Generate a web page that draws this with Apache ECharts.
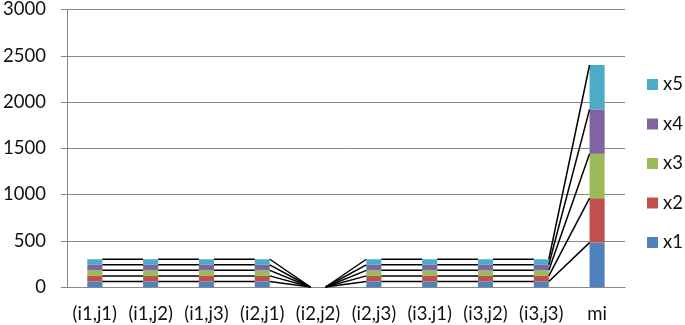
<!DOCTYPE html>
<html>
<head>
<meta charset="utf-8">
<script src="https://cdn.jsdelivr.net/npm/echarts@6/dist/echarts.min.js"></script>
<style>html,body{margin:0;padding:0;background:#fff}#c{width:685px;height:325px}</style>
</head>
<body>
<div id="c"></div>
<script>
const categories = ['(i1,j1)','(i1,j2)','(i1,j3)','(i2,j1)','(i2,j2)','(i2,j3)','(i3.j1)','(i3,j2)','(i3,j3)','mi'];
const x1 = [60,60,60,60,0,60,60,60,60,480];
const x2 = [60,60,60,60,0,60,60,60,60,480];
const x3 = [60,60,60,60,0,60,60,60,60,480];
const x4 = [60,60,60,60,0,60,60,60,60,480];
const x5 = [60,60,60,60,0,60,60,60,60,480];
const seriesNames = ['x1','x2','x3','x4','x5'];
const seriesValues = [x1,x2,x3,x4,x5];
const colors = ['#4F81BD','#C0504D','#9BBB59','#8064A2','#4BACC6'];
const yTicks = [0,500,1000,1500,2000,2500,3000];

// cumulative tops per level
const cum = seriesValues.map((_, k) => categories.map((_, i) => {
  let s = 0; for (let j = 0; j <= k; j++) s += seriesValues[j][i]; return s;
}));
const BAR_FRAC = 0.27;
const connectorData = [];
for (let i = 0; i < categories.length - 1; i++) for (let k = 0; k < seriesNames.length; k++) connectorData.push([i, k]);

const chart = echarts.init(document.getElementById('c'));
const font = 'Lato';
const FS = 18.5;
chart.setOption({
  animation: false,
  textStyle: {fontFamily: font},
  grid: {left: 64, right: 60, top: 8, bottom: 38, containLabel: false},
  legend: {
    orient: 'vertical', left: 647, top: 75, padding: 0,
    data: ['x5','x4','x3','x2','x1'],
    icon: 'rect', itemWidth: 11, itemHeight: 11, itemGap: 20.5, itemTextGap: 6,
    textStyle: {fontFamily: font, fontSize: FS, color: '#111'}
  },
  xAxis: {
    type: 'category', data: categories,
    axisLine: {lineStyle: {color: '#888', width: 1}},
    axisTick: {show: false},
    axisLabel: {fontFamily: font, fontSize: FS, color: '#111', margin: 18, interval: 0}
  },
  yAxis: {
    type: 'value', min: yTicks[0], max: yTicks[yTicks.length-1], interval: 500,
    axisLine: {show: true, lineStyle: {color: '#888', width: 1}},
    axisTick: {show: true, length: 6, lineStyle: {color: '#888'}},
    splitLine: {lineStyle: {color: '#888', width: 1}},
    axisLabel: {fontFamily: font, fontSize: FS, color: '#111', margin: 21, formatter: v => String(v)}
  },
  series: seriesNames.map((n, k) => ({
    name: n, type: 'bar', stack: 'total', barWidth: (BAR_FRAC*100) + '%',
    itemStyle: {color: colors[k]}, data: seriesValues[k]
  })).concat([{
    type: 'custom', name: 'connectors', silent: true, z: 5,
    data: connectorData,
    encode: {x: 0, y: 1},
    renderItem: function (params, api) {
      const i = api.value(0), k = api.value(1);
      const bw = api.size([1, 0])[0] * BAR_FRAC;
      const p1 = api.coord([i, cum[k][i]]);
      const p2 = api.coord([i + 1, cum[k][i + 1]]);
      return {type: 'line', shape: {x1: p1[0] + bw/2, y1: p1[1], x2: p2[0] - bw/2, y2: p2[1]},
        style: {stroke: '#000', lineWidth: 1.5}};
    }
  }])
});
</script>
</body>
</html>
